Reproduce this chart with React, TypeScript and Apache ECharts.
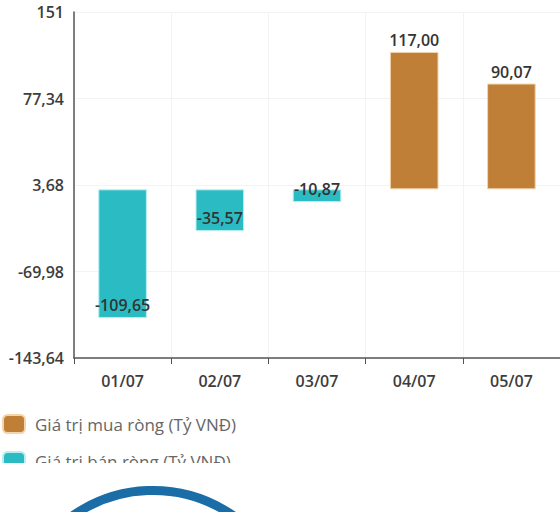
import React, { useEffect, useRef } from "react";
import * as echarts from "echarts";

const categories = ["01/07", "02/07", "03/07", "04/07", "05/07"];
const buyValues: (number | null)[] = [null, null, null, 117.0, 90.07];
const sellValues: (number | null)[] = [-109.65, -35.57, -10.87, null, null];
const seriesNames = ["Giá trị mua ròng (Tỷ VNĐ)", "Giá trị bán ròng (Tỷ VNĐ)"];
const yMin = -143.64;
const yMax = 151;
const yInterval = 73.66;

const fmtTick = (v: number) => {
  const r = Math.round(v * 100) / 100;
  if (Number.isInteger(r)) return String(r);
  return r.toFixed(2).replace(".", ",");
};
const fmtVal = (v: number) => v.toFixed(2).replace(".", ",");

export default function App() {
  const ref = useRef<HTMLDivElement>(null);
  useEffect(() => {
    if (!ref.current) return;
    const chart = echarts.init(ref.current, null, { renderer: "svg" });
    const font = "'Open Sans', 'Noto Sans', sans-serif";
    const axisText = { color: "#3d3d3d", fontSize: 16, fontWeight: 600, fontFamily: font };
    chart.setOption({
      animation: false,
      textStyle: { fontFamily: font },
      grid: { left: 74, right: -3, top: 12, bottom: 154, containLabel: false },
      legend: {
        orient: "vertical",
        left: 2,
        top: 414,
        padding: 0,
        itemWidth: 22,
        itemHeight: 18,
        itemGap: 17,
        icon: "roundRect",
        textStyle: { color: "#666", fontSize: 17, fontFamily: font, padding: [0, 0, 0, 5] },
        data: seriesNames,
      },
      xAxis: {
        type: "category",
        data: categories,
        axisLine: { onZero: false, lineStyle: { color: "#555", width: 1.5 } },
        axisTick: { show: true, length: 6, lineStyle: { color: "#555" } },
        axisLabel: { ...axisText, margin: 15 },
        splitLine: { show: true, lineStyle: { color: "#f3f3f3" } },
      },
      yAxis: {
        type: "value",
        min: yMin,
        max: yMax,
        interval: yInterval,
        axisLine: { show: true, lineStyle: { color: "#555", width: 1.5 } },
        axisTick: { show: false },
        axisLabel: { ...axisText, margin: 10, formatter: (v: number) => fmtTick(v) },
        splitLine: { show: true, lineStyle: { color: "#f3f3f3" } },
      },
      series: [
        {
          name: seriesNames[0],
          type: "bar",
          stack: "total",
          barWidth: "50%",
          data: buyValues,
          itemStyle: { color: "#c07f36", borderColor: "#f3d4ad", borderWidth: 1 },
          label: {
            show: true,
            position: "top",
            distance: 4,
            color: "#333",
            fontSize: 16,
            fontWeight: 600,
            fontFamily: font,
            formatter: (p: any) => fmtVal(p.value),
          },
        },
        {
          name: seriesNames[1],
          type: "bar",
          stack: "total",
          barWidth: "50%",
          data: sellValues,
          itemStyle: { color: "#2bbcc3", borderColor: "#b8eef0", borderWidth: 1 },
          label: {
            show: true,
            position: "insideBottom",
            distance: 5,
            color: "#333",
            fontSize: 16,
            fontWeight: 600,
            fontFamily: font,
            formatter: (p: any) => fmtVal(p.value),
          },
        },
      ],
      graphic: [
        {
          type: "rect",
          z: 100,
          shape: { x: 0, y: 463, width: 560, height: 49 },
          style: { fill: "#fff" },
        },
        {
          type: "circle",
          z: 101,
          shape: { cx: 153, cy: 631, r: 140.5 },
          style: { fill: "none", stroke: "#1a6da6", lineWidth: 9 },
        },
      ],
    });
    return () => chart.dispose();
  }, []);
  return (
    <div
      ref={ref}
      style={{ position: "absolute", left: 0, top: 0, width: 560, height: 512, background: "#fff" }}
    />
  );
}
